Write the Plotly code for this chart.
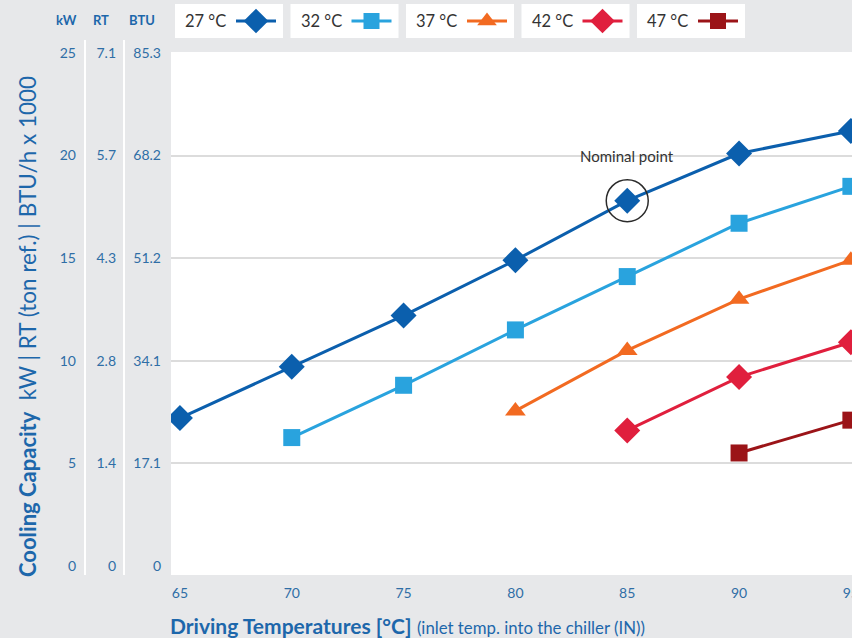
import plotly.graph_objects as go

# ---------------- data ----------------
temps = [65, 70, 75, 80, 85, 90, 95]
series_names = ["27 °C", "32 °C", "37 °C", "42 °C", "47 °C"]
s27 = [7.2, 9.7, 12.2, 14.9, 17.8, 20.1, 21.2]
s32 = [None, 6.25, 8.8, 11.5, 14.1, 16.7, 18.5]
s37 = [None, None, None, 7.55, 10.5, 13.0, 14.9]
s42 = [None, None, None, None, 6.6, 9.2, 10.9]
s47 = [None, None, None, None, None, 5.5, 7.1]
series_values = [s27, s32, s37, s42, s47]
colors = ["#0b5fad", "#29a3de", "#f26a21", "#e01f3d", "#9b1418"]
symbols = ["diamond", "square", "triangle-up", "diamond", "square"]
msizes = [20, 17, 18, 20, 17]

kw_ticks = [0, 5, 10, 15, 20, 25]
rt_labels = ["0", "1.4", "2.8", "4.3", "5.7", "7.1"]
btu_labels = ["0", "17.1", "34.1", "51.2", "68.2", "85.3"]
x_ticks = [65, 70, 75, 80, 85, 90, 95]
nominal = (85, 17.8)

W, H = 852, 638
BG = "#e7e8ea"
BLUE = "#1d67ab"
TICKBLUE = "#2f6ea6"
FONT = "Lato"

py = lambda p: 1 - p / H
px = lambda p: p / W

fig = go.Figure()

for name, vals, c, sym, ms in zip(series_names, series_values, colors, symbols, msizes):
    xs = [t for t, v in zip(temps, vals) if v is not None]
    ys = [v for v in vals if v is not None]
    fig.add_trace(go.Scatter(x=xs, y=ys, mode="lines+markers", name=name,
                             line=dict(color=c, width=3),
                             marker=dict(symbol=sym, size=ms, color=c, opacity=1),
                             showlegend=False, xaxis="x", yaxis="y"))

# custom legend (text first, then symbol) on a pixel-space helper axis
box_x0, box_step, box_w = 175, 115.5, 108
for i, (name, c, sym, ms) in enumerate(zip(series_names, colors, symbols, msizes)):
    x0 = box_x0 + i * box_step
    fig.add_trace(go.Scatter(x=[x0 + 61, x0 + 101], y=[21, 21],
                             mode="lines", line=dict(color=c, width=3),
                             showlegend=False, hoverinfo="skip",
                             xaxis="x2", yaxis="y2", cliponaxis=False))
    fig.add_trace(go.Scatter(x=[x0 + 81], y=[21],
                             mode="markers", opacity=1,
                             marker=dict(symbol=sym, size=ms - 1, color=c, opacity=1),
                             showlegend=False, hoverinfo="skip",
                             xaxis="x2", yaxis="y2", cliponaxis=False))
    fig.add_shape(type="rect", xref="paper", yref="paper", x0=px(x0), x1=px(x0 + box_w),
                  y0=py(38), y1=py(4), fillcolor="white", line=dict(width=0), layer="below")
    fig.add_annotation(x=x0 + 8, y=21, xref="x2", yref="y2", text=name, showarrow=False,
                       xanchor="left", yanchor="middle",
                       font=dict(family=FONT, size=16.5, color="#333333"))

YR = [-0.45, 25.05]
common_y = dict(showgrid=False, zeroline=False, showline=False, ticks="", automargin=False,
                tickfont=dict(size=14, color=TICKBLUE), range=YR, tickvals=kw_ticks)
fig.update_layout(
    width=W, height=H, margin=dict(l=0, r=0, t=0, b=0, autoexpand=False),
    paper_bgcolor=BG, plot_bgcolor="rgba(0,0,0,0)",
    font=dict(family=FONT, color=TICKBLUE),
    xaxis=dict(domain=[px(171), 1], range=[64.6, 95.05], tickvals=x_ticks,
               showgrid=False, zeroline=False, showline=False, ticks="", automargin=False,
               ticklabelstandoff=8, ticklabeloverflow="allow",
               tickfont=dict(size=14, color=TICKBLUE), anchor="y"),
    yaxis=dict(domain=[py(575), py(52)], range=YR, tickvals=[5, 10, 15, 20],
               showticklabels=False, showgrid=True, gridcolor="#dcdcdc", gridwidth=2,
               zeroline=False, showline=False, ticks="", anchor="x", automargin=False),
    yaxis3=dict(overlaying="y", anchor="free", position=px(76), ticktext=[str(v) for v in kw_ticks], **common_y),
    yaxis4=dict(overlaying="y", anchor="free", position=px(116), ticktext=rt_labels, **common_y),
    yaxis5=dict(overlaying="y", anchor="free", position=px(161), ticktext=btu_labels, **common_y),
    xaxis2=dict(domain=[0, 1], range=[0, W], visible=False, anchor="y2", fixedrange=True, automargin=False),
    yaxis2=dict(domain=[py(42), 1], range=[42, 0], visible=False, anchor="x2", fixedrange=True, automargin=False),
)

# main plot background (white)
fig.add_shape(type="rect", xref="paper", yref="paper", x0=px(171), x1=1, y0=py(575), y1=py(52),
              fillcolor="white", line=dict(width=0), layer="below")

# dummy invisible traces so the extra y axes render
for ax in ["y3", "y4", "y5"]:
    fig.add_trace(go.Scatter(x=[None], y=[None], xaxis="x", yaxis=ax, showlegend=False,
                             hoverinfo="skip"))

# column separators
for xs in [85, 124]:
    fig.add_shape(type="line", xref="paper", yref="paper", x0=px(xs), x1=px(xs),
                  y0=py(575), y1=py(40), line=dict(color="white", width=2), layer="below")

# column headers
for txt, xc in [("kW", 66), ("RT", 101), ("BTU", 142)]:
    fig.add_annotation(x=px(xc), y=py(20), xref="paper", yref="paper", text=f"<b>{txt}</b>",
                       showarrow=False, xanchor="center", yanchor="middle",
                       font=dict(family=FONT, size=13, color=BLUE))

# nominal point marker
fig.add_shape(type="circle", xref="x", yref="y", xsizemode="pixel", ysizemode="pixel",
              xanchor=nominal[0], yanchor=nominal[1], x0=-21, x1=21, y0=-21, y1=21,
              line=dict(color="#2b2b2b", width=1.5))
fig.add_annotation(x=nominal[0], y=nominal[1], xref="x", yref="y", text="Nominal point",
                   showarrow=False, yshift=45, xshift=0,
                   font=dict(family=FONT, size=15, color="#333333"))

# axis titles
fig.add_annotation(x=px(28), y=py(327), xref="paper", yref="paper", textangle=-90,
                   text="<b>Cooling Capacity</b>  <span style='font-size:22.5px'>kW | RT (ton ref.) | BTU/h x 1000</span>",
                   showarrow=False, xanchor="center", yanchor="middle",
                   font=dict(family=FONT, size=22, color=BLUE))
fig.add_annotation(x=px(168), y=py(625), xref="paper", yref="paper",
                   text="<b>Driving Temperatures [°C]</b> <span style='font-size:16.8px'>(inlet temp. into the chiller (IN))</span>",
                   showarrow=False, xanchor="left", yanchor="middle",
                   font=dict(family=FONT, size=21, color=BLUE))

fig.write_html("out.html")
